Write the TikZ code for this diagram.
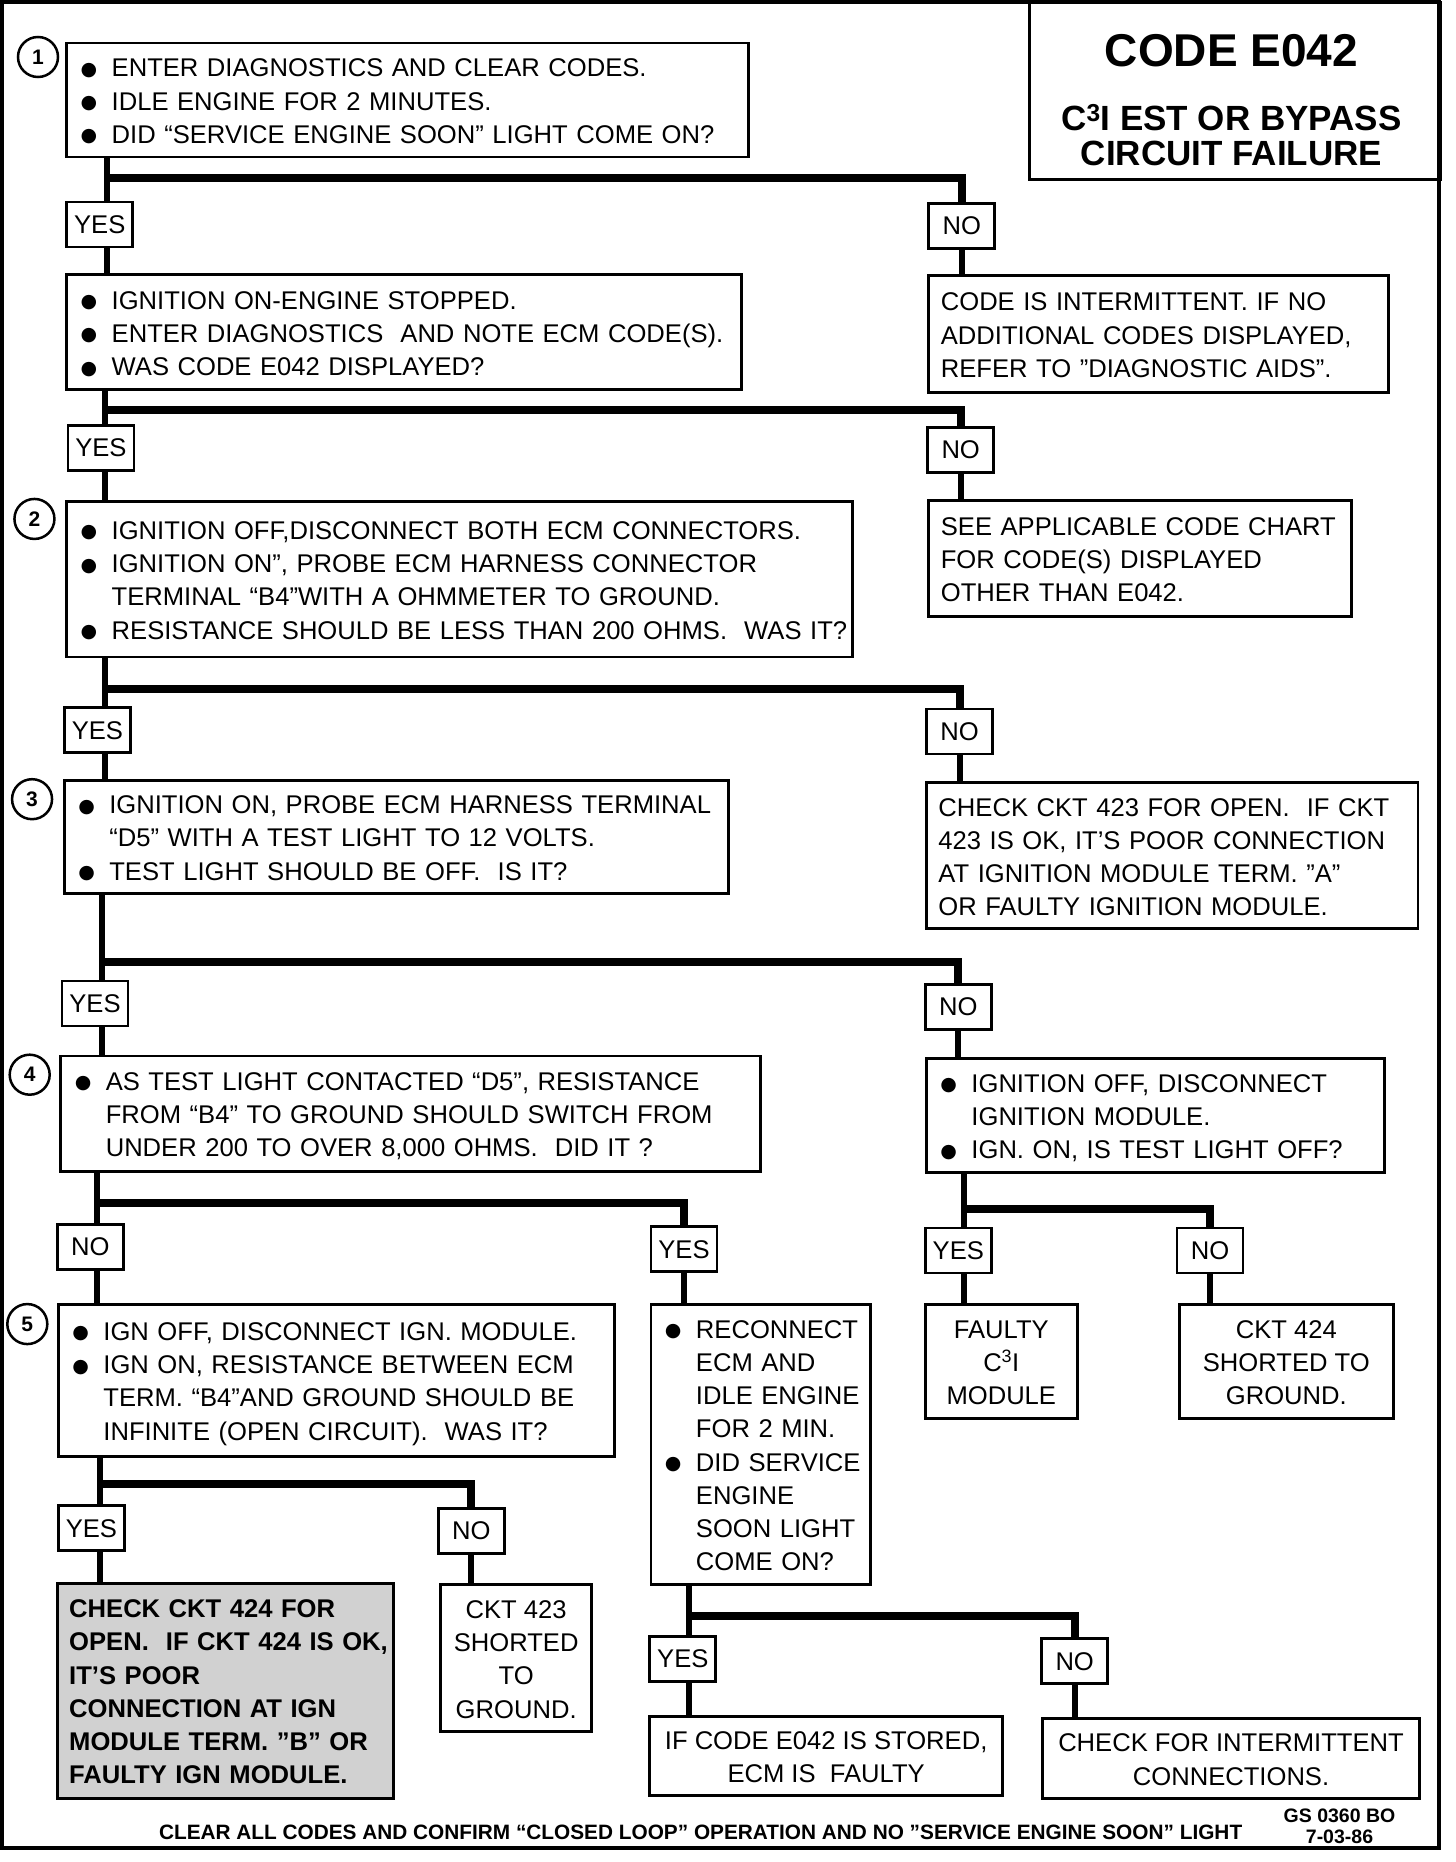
\documentclass[tikz,border=0pt]{standalone}
\usepackage{fontspec}
\setmainfont{Liberation Sans}
\newfontfamily\dotfont{DejaVu Sans}
\usetikzlibrary{backgrounds}
\newcommand{\bul}{\makebox[31pt][l]{\raisebox{1.5pt}{\dotfont\fontsize{19}{19}\selectfont ●}}}
\newcommand{\ind}{\hspace*{31pt}}
\newcommand{\gap}{\ \ }
\newcommand{\rows}[2][l]{\raisebox{0pt}[\height][\dimexpr\depth-7pt\relax]{%
  \begin{tabular}{@{}#1@{}}#2\end{tabular}}}
\newcommand{\cthree}{C\textsuperscript{3}I}

\begin{document}
\begin{tikzpicture}[x=1.1875pt, y=-1.1875pt,
  every node/.style={font=\fontsize{25.6}{33.25}\selectfont},
  stepbox/.style={draw, line width=2.8pt, fill=white, anchor=north west,
    inner xsep=14pt, inner ysep=0pt, align=left},
  plainbox/.style={stepbox, inner xsep=12pt},
  midbox/.style={draw, line width=2.8pt, fill=white, anchor=north west,
    inner sep=0pt, align=center},
  answer/.style={draw, line width=2.8pt, fill=white, minimum width=66pt,
    minimum height=45pt, inner sep=0pt},
  stepnum/.style={circle, draw, line width=2.5pt, minimum size=40pt, inner sep=0pt,
    font=\fontsize{21}{21}\bfseries\selectfont},
  vline/.style={line width=6pt},
  hbar/.style={line width=8pt},
  ]
  \useasboundingbox (0,0) rectangle (1226.1,1568);
  \draw[line width=4pt] (2,2) rectangle (1212,1556);

  % title
  \node[draw, line width=2.8pt, anchor=north west, inner sep=0pt,
    minimum width=410.9pt, minimum height=177pt] (title) at (866,1) {};
  \node[anchor=base, font=\fontsize{46}{46}\bfseries\selectfont] (code) at (1037,56) {CODE E042};
  \node[anchor=base, font=\fontsize{35}{35}\bfseries\selectfont] (what) at (1037,110) {\cthree\ EST OR BYPASS};
  \node[anchor=base, font=\fontsize{35}{35}\bfseries\selectfont] (fail) at (1037,139) {CIRCUIT FAILURE};

  % step numbers
  \node[stepnum] (n1) at (32,48) {1};
  \node[stepnum] (n2) at (29,437) {2};
  \node[stepnum] (n3) at (27,673) {3};
  \node[stepnum] (n4) at (25,905) {4};
  \node[stepnum] (n5) at (23,1115) {5};

  % left column
  \node[stepbox, text width=653.6pt, minimum height=114pt] (q1) at (55,35)
    {\rows{\bul ENTER DIAGNOSTICS AND CLEAR CODES.\\
     \bul IDLE ENGINE FOR 2 MINUTES.\\
     \bul DID “SERVICE ENGINE SOON” LIGHT COME ON?}};
  \node[stepbox, text width=646.5pt, minimum height=115.2pt] (q2) at (55,230)
    {\rows{\bul IGNITION ON-ENGINE STOPPED.\\
     \bul ENTER DIAGNOSTICS\gap AND NOTE ECM CODE(S).\\
     \bul WAS CODE E042 DISPLAYED?}};
  \node[stepbox, text width=758.1pt, minimum height=155.6pt] (q3) at (55,421)
    {\rows{\bul IGNITION OFF,DISCONNECT BOTH ECM CONNECTORS.\\
     \bul IGNITION ON”, PROBE ECM HARNESS CONNECTOR\\
     \ind TERMINAL “B4”WITH A OHMMETER TO GROUND.\\
     \bul RESISTANCE SHOULD BE LESS THAN 200 OHMS.\gap WAS IT?}};
  \node[stepbox, text width=635.8pt, minimum height=112.8pt] (q4) at (53,656)
    {\rows{\bul IGNITION ON, PROBE ECM HARNESS TERMINAL\\
     \ind “D5” WITH A TEST LIGHT TO 12 VOLTS.\\
     \bul TEST LIGHT SHOULD BE OFF.\gap IS IT?}};
  \node[stepbox, text width=671.4pt, minimum height=115.2pt] (q5) at (50,888)
    {\rows{\bul AS TEST LIGHT CONTACTED “D5”, RESISTANCE\\
     \ind FROM “B4” TO GROUND SHOULD SWITCH FROM\\
     \ind UNDER 200 TO OVER 8,000 OHMS.\gap DID IT ?}};
  \node[stepbox, text width=527.8pt, minimum height=152pt] (q6) at (48,1097)
    {\rows{\bul IGN OFF, DISCONNECT IGN. MODULE.\\
     \bul IGN ON, RESISTANCE BETWEEN ECM\\
     \ind TERM. “B4”AND GROUND SHOULD BE\\
     \ind INFINITE (OPEN CIRCUIT).\gap WAS IT?}};
  \node[plainbox, text width=312.1pt, minimum height=215pt, fill=black!18,
    font=\fontsize{25.6}{33.25}\bfseries\selectfont] (sh) at (47,1332)
    {\rows{CHECK CKT 424 FOR\\ OPEN.\gap IF CKT 424 IS OK,\\ IT’S POOR\\
     CONNECTION AT IGN\\ MODULE TERM. ”B” OR\\ FAULTY IGN MODULE.}};
  \node[midbox, minimum width=150.8pt, minimum height=147.3pt] (c423) at (370,1333)
    {\rows[c]{CKT 423\\ SHORTED\\ TO\\ GROUND.}};

  % middle column
  \node[stepbox, text width=191.7pt, minimum height=280.3pt] (rc) at (547,1097)
    {\rows{\bul RECONNECT\\ \ind ECM AND\\ \ind IDLE ENGINE\\ \ind FOR 2 MIN.\\
     \bul DID SERVICE\\ \ind ENGINE\\ \ind SOON LIGHT\\ \ind COME ON?}};
  \node[midbox, minimum width=352.7pt, minimum height=79.6pt] (ecm) at (546,1444)
    {\rows[c]{IF CODE E042 IS STORED,\\ ECM IS\gap FAULTY}};
  \node[midbox, minimum width=376.4pt, minimum height=79.6pt] (inter) at (877,1446)
    {\rows[c]{CHECK FOR INTERMITTENT\\ CONNECTIONS.}};

  % right column
  \node[plainbox, text width=435.6pt, minimum height=116.4pt] (r1) at (781,231)
    {\rows{CODE IS INTERMITTENT. IF NO\\ ADDITIONAL CODES DISPLAYED,\\
     REFER TO ”DIAGNOSTIC AIDS”.}};
  \node[plainbox, text width=398.8pt, minimum height=116.4pt] (r2) at (781,420)
    {\rows{SEE APPLICABLE CODE CHART\\ FOR CODE(S) DISPLAYED\\ OTHER THAN E042.}};
  \node[plainbox, text width=467.6pt, minimum height=146.1pt] (r3) at (779,658)
    {\rows{CHECK CKT 423 FOR OPEN.\gap IF CKT\\ 423 IS OK, IT’S POOR CONNECTION\\
     AT IGNITION MODULE TERM. ”A”\\ OR FAULTY IGNITION MODULE.}};
  \node[stepbox, text width=430.4pt, minimum height=114pt] (r4) at (779,890)
    {\rows{\bul IGNITION OFF, DISCONNECT\\ \ind IGNITION MODULE.\\
     \bul IGN. ON, IS TEST LIGHT OFF?}};
  \node[midbox, minimum width=152pt, minimum height=114pt] (c3i) at (778,1097)
    {\rows[c]{FAULTY\\ \cthree\\ MODULE}};
  \node[midbox, minimum width=213.8pt, minimum height=114pt] (c424) at (992,1097)
    {\rows[c]{CKT 424\\ SHORTED TO\\ GROUND.}};

  % answers
  \node[answer] (a1y) at (84,189) {YES};
  \node[answer] (a1n) at (810,190) {NO};
  \node[answer] (a2y) at (85,377) {YES};
  \node[answer] (a2n) at (809,379) {NO};
  \node[answer] (a3y) at (82,615) {YES};
  \node[answer] (a3n) at (808,616) {NO};
  \node[answer] (a4y) at (80,845) {YES};
  \node[answer] (a4n) at (807,848) {NO};
  \node[answer] (a5n) at (76,1050) {NO};
  \node[answer] (a5y) at (576,1052) {YES};
  \node[answer] (a6y) at (807,1053) {YES};
  \node[answer] (a6n) at (1019,1053) {NO};
  \node[answer] (a7y) at (77,1287) {YES};
  \node[answer] (a7n) at (397,1289) {NO};
  \node[answer] (a8y) at (575,1397) {YES};
  \node[answer] (a8n) at (905,1399) {NO};

  % footer
  \node[anchor=base, font=\fontsize{20.8}{20.8}\bfseries\selectfont] (clear) at (590,1549)
    {CLEAR ALL CODES AND CONFIRM “CLOSED LOOP” OPERATION AND NO ”SERVICE ENGINE SOON” LIGHT};
  \node[align=center, font=\fontsize{19.5}{21}\bfseries\selectfont] (gs) at (1128,1538)
    {GS 0360 BO\\ 7-03-86};

  % branch points
  \coordinate (j1) at (90,150);
  \coordinate (j2) at (88,345);
  \coordinate (j3) at (88,580);
  \coordinate (j4) at (86,810);
  \coordinate (j5) at (82,1013);
  \coordinate (j6) at (812,1018);
  \coordinate (j7) at (84,1250);
  \coordinate (j8) at (580,1361);

  \begin{scope}[on background layer]
    % step 1
    \draw[vline] (q1.south -| j1) -- (j1) -- (a1y.north -| j1);
    \draw[vline] (a1y.south -| j1) -- (q2.north -| j1);
    \draw[hbar] (j1) -| (a1n.north);
    \draw[vline] (a1n.south) -- (r1.north -| a1n);
    % code displayed?
    \draw[vline] (q2.south -| j2) -- (j2) -- (a2y.north -| j2);
    \draw[vline] (a2y.south -| j2) -- (q3.north -| j2);
    \draw[hbar] (j2) -| (a2n.north);
    \draw[vline] (a2n.south) -- (r2.north -| a2n);
    % step 2
    \draw[vline] (q3.south -| j3) -- (j3) -- (a3y.north -| j3);
    \draw[vline] (a3y.south -| j3) -- (q4.north -| j3);
    \draw[hbar] (j3) -| (a3n.north);
    \draw[vline] (a3n.south) -- (r3.north -| a3n);
    % step 3
    \draw[vline] (q4.south -| j4) -- (j4) -- (a4y.north -| j4);
    \draw[vline] (a4y.south -| j4) -- (q5.north -| j4);
    \draw[hbar] (j4) -| (a4n.north);
    \draw[vline] (a4n.south) -- (r4.north -| a4n);
    % step 4
    \draw[vline] (q5.south -| j5) -- (j5) -- (a5n.north -| j5);
    \draw[vline] (a5n.south -| j5) -- (q6.north -| j5);
    \draw[hbar] (j5) -| (a5y.north);
    \draw[vline] (a5y.south) -- (rc.north -| a5y);
    % test light off?
    \draw[vline] (r4.south -| j6) -- (j6) -- (a6y.north -| j6);
    \draw[vline] (a6y.south -| j6) -- (c3i.north -| j6);
    \draw[hbar] (j6) -| (a6n.north);
    \draw[vline] (a6n.south) -- (c424.north -| a6n);
    % step 5
    \draw[vline] (q6.south -| j7) -- (j7) -- (a7y.north -| j7);
    \draw[vline] (a7y.south -| j7) -- (sh.north -| j7);
    \draw[hbar] (j7) -| (a7n.north);
    \draw[vline] (a7n.south) -- (c423.north -| a7n);
    % light came on?
    \draw[vline] (rc.south -| j8) -- (j8) -- (a8y.north -| j8);
    \draw[vline] (a8y.south -| j8) -- (ecm.north -| j8);
    \draw[hbar] (j8) -| (a8n.north);
    \draw[vline] (a8n.south) -- (inter.north -| a8n);
  \end{scope}
\end{tikzpicture}
\end{document}
